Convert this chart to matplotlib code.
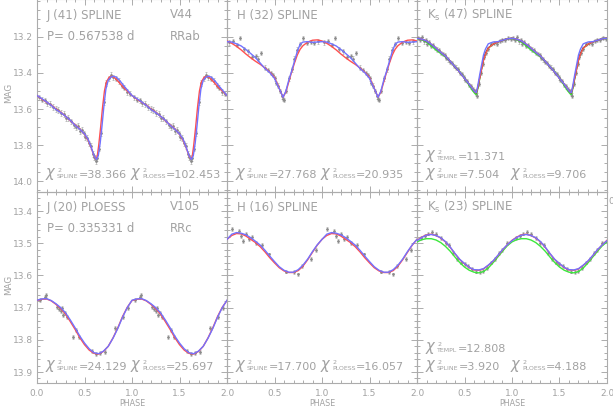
import numpy as np
import matplotlib
matplotlib.use('Agg')
import matplotlib.pyplot as plt
from matplotlib.ticker import MultipleLocator, FixedLocator, FormatStrFormatter

plt.rcParams['mathtext.fontset'] = 'dejavusans'
plt.rcParams['font.family'] = ['DejaVu Sans']

# ---------------- data (one pulsation cycle, phase 0..1) ----------------
# Top-left: J band, V44 (RRab)
jA_ph_red = [0.00, 0.05, 0.10, 0.15, 0.20, 0.25, 0.30, 0.35, 0.40, 0.45, 0.50, 0.54, 0.57, 0.60, 0.62,
             0.635, 0.65, 0.67, 0.69, 0.71, 0.73, 0.76, 0.79, 0.82, 0.86, 0.90, 0.95, 1.00]
jA_red = [13.525, 13.545, 13.562, 13.578, 13.600, 13.618, 13.640, 13.664, 13.688, 13.710, 13.740, 13.775,
          13.815, 13.860, 13.878, 13.860, 13.800, 13.700, 13.590, 13.500, 13.450, 13.423, 13.418, 13.428,
          13.450, 13.475, 13.500, 13.525]
jA_ph_blue = [0.00, 0.05, 0.10, 0.15, 0.20, 0.25, 0.30, 0.35, 0.40, 0.45, 0.50, 0.54, 0.57, 0.60, 0.625,
              0.645, 0.665, 0.685, 0.705, 0.725, 0.75, 0.78, 0.81, 0.84, 0.88, 0.92, 0.96, 1.00]
jA_blue = [13.525, 13.542, 13.560, 13.580, 13.603, 13.620, 13.640, 13.662, 13.690, 13.712, 13.738, 13.770,
           13.812, 13.858, 13.880, 13.860, 13.790, 13.690, 13.580, 13.490, 13.440, 13.422, 13.418, 13.425,
           13.448, 13.475, 13.500, 13.525]
jA_pt_ph = [0.02, 0.05, 0.08, 0.11, 0.14, 0.17, 0.20, 0.22, 0.25, 0.28, 0.31, 0.33, 0.36, 0.39, 0.41,
            0.43, 0.45, 0.47, 0.49, 0.51, 0.53, 0.55, 0.57, 0.59, 0.60, 0.61, 0.62, 0.63, 0.65, 0.67,
            0.70, 0.73, 0.76, 0.78, 0.80, 0.83, 0.86, 0.89, 0.92, 0.95, 0.98]
jA_pt_mag = [13.535, 13.548, 13.552, 13.568, 13.572, 13.588, 13.600, 13.606, 13.622, 13.628, 13.652, 13.650,
             13.668, 13.690, 13.700, 13.695, 13.722, 13.716, 13.735, 13.755, 13.760, 13.790, 13.805, 13.850,
             13.868, 13.870, 13.890, 13.872, 13.820, 13.735, 13.560, 13.455, 13.430, 13.410, 13.425, 13.432,
             13.445, 13.470, 13.482, 13.505, 13.515]
jA_err = 0.015

# Top-middle: H band
hA_ph = [0.00, 0.05, 0.10, 0.15, 0.20, 0.25, 0.30, 0.35, 0.40, 0.45, 0.50, 0.53, 0.56, 0.59, 0.62,
         0.65, 0.68, 0.71, 0.74, 0.77, 0.80, 0.85, 0.90, 0.95, 1.00]
hA_blue = [13.226, 13.228, 13.238, 13.250, 13.270, 13.292, 13.315, 13.345, 13.375, 13.398, 13.430, 13.465,
           13.498, 13.535, 13.500, 13.440, 13.390, 13.335, 13.280, 13.240, 13.228, 13.226, 13.230, 13.228, 13.226]
hA_red = [13.222, 13.235, 13.252, 13.272, 13.295, 13.316, 13.335, 13.352, 13.372, 13.395, 13.425, 13.460,
          13.498, 13.535, 13.505, 13.450, 13.395, 13.345, 13.300, 13.268, 13.248, 13.228, 13.218, 13.216, 13.222]
hA_pt_ph = [0.02, 0.06, 0.10, 0.14, 0.18, 0.22, 0.26, 0.30, 0.33, 0.36, 0.40, 0.43, 0.46, 0.48, 0.50, 0.52,
            0.54, 0.56, 0.58, 0.59, 0.60, 0.62, 0.65, 0.68, 0.71, 0.74, 0.77, 0.80, 0.84, 0.88, 0.92, 0.96]
hA_pt_mag = [13.230, 13.222, 13.245, 13.205, 13.265, 13.280, 13.310, 13.305, 13.320, 13.290, 13.370, 13.385,
             13.400, 13.410, 13.430, 13.455, 13.470, 13.500, 13.530, 13.545, 13.550, 13.500, 13.430, 13.380,
             13.320, 13.270, 13.240, 13.205, 13.235, 13.228, 13.232, 13.225]
hA_err = 0.012

# Top-right: Ks band
kA_ph = [0.00, 0.05, 0.10, 0.15, 0.20, 0.25, 0.30, 0.35, 0.40, 0.45, 0.50, 0.55, 0.58, 0.61, 0.625,
         0.64, 0.66, 0.68, 0.70, 0.72, 0.75, 0.80, 0.85, 0.90, 0.95, 1.00]
kA_red = [13.207, 13.212, 13.222, 13.240, 13.262, 13.285, 13.306, 13.335, 13.365, 13.395, 13.430, 13.462,
          13.485, 13.505, 13.510, 13.480, 13.430, 13.380, 13.330, 13.295, 13.262, 13.240, 13.228, 13.218,
          13.210, 13.207]
kA_blue = [13.207, 13.212, 13.222, 13.240, 13.262, 13.285, 13.306, 13.335, 13.365, 13.395, 13.430, 13.462,
           13.485, 13.505, 13.508, 13.470, 13.410, 13.355, 13.300, 13.268, 13.238, 13.228, 13.226, 13.218,
           13.210, 13.207]
kA_green = [13.208, 13.215, 13.228, 13.250, 13.272, 13.292, 13.310, 13.336, 13.364, 13.393, 13.428, 13.470,
            13.495, 13.515, 13.520, 13.488, 13.432, 13.378, 13.328, 13.292, 13.262, 13.240, 13.228, 13.218,
            13.210, 13.208]
kA_black = [13.207, 13.213, 13.224, 13.242, 13.263, 13.286, 13.307, 13.336, 13.366, 13.396, 13.430, 13.463,
            13.487, 13.506, 13.512, 13.482, 13.428, 13.375, 13.326, 13.292, 13.260, 13.240, 13.228, 13.218,
            13.210, 13.207]
kA_pt_ph = [0.01, 0.03, 0.05, 0.07, 0.09, 0.11, 0.13, 0.15, 0.17, 0.19, 0.21, 0.23, 0.25, 0.27, 0.29,
            0.31, 0.33, 0.35, 0.37, 0.39, 0.41, 0.43, 0.45, 0.47, 0.49, 0.51, 0.53, 0.55, 0.57, 0.59,
            0.61, 0.62, 0.63, 0.65, 0.67, 0.69, 0.71, 0.73, 0.75, 0.78, 0.81, 0.84, 0.87, 0.90, 0.93,
            0.96, 0.99]
kA_pt_mag = [13.205, 13.215, 13.200, 13.225, 13.218, 13.240, 13.228, 13.250, 13.245, 13.262, 13.270, 13.272,
             13.290, 13.295, 13.300, 13.318, 13.325, 13.340, 13.345, 13.362, 13.370, 13.380, 13.400, 13.405,
             13.425, 13.440, 13.446, 13.465, 13.475, 13.490, 13.500, 13.515, 13.525, 13.460, 13.400, 13.350,
             13.310, 13.290, 13.265, 13.240, 13.235, 13.238, 13.222, 13.215, 13.218, 13.205, 13.210]
kA_err = 0.012

# Bottom-left: J band, V105 (RRc)
jB_ph = [0.00, 0.05, 0.10, 0.15, 0.20, 0.25, 0.30, 0.35, 0.40, 0.45, 0.50, 0.55, 0.60, 0.65, 0.70,
         0.75, 0.80, 0.85, 0.90, 0.95, 1.00]
jB_blue = [13.677, 13.673, 13.672, 13.678, 13.688, 13.700, 13.716, 13.738, 13.762, 13.788, 13.810, 13.828,
           13.840, 13.843, 13.835, 13.820, 13.795, 13.765, 13.730, 13.700, 13.677]
jB_red = [13.678, 13.674, 13.673, 13.679, 13.690, 13.703, 13.720, 13.743, 13.767, 13.793, 13.815, 13.832,
          13.842, 13.844, 13.836, 13.820, 13.794, 13.763, 13.728, 13.699, 13.678]
jB_pt_ph = [0.03, 0.08, 0.09, 0.21, 0.23, 0.25, 0.26, 0.27, 0.29, 0.32, 0.38, 0.41, 0.44, 0.58, 0.62,
            0.66, 0.72, 0.82, 0.91, 0.96]
jB_pt_mag = [13.676, 13.668, 13.660, 13.698, 13.705, 13.712, 13.700, 13.722, 13.718, 13.728, 13.790, 13.770,
             13.792, 13.835, 13.845, 13.842, 13.838, 13.762, 13.728, 13.700]
jB_err = 0.006

# Bottom-middle: H band
hB_ph = [0.00, 0.05, 0.10, 0.15, 0.20, 0.25, 0.30, 0.35, 0.40, 0.45, 0.50, 0.55, 0.60, 0.65, 0.70,
         0.75, 0.80, 0.85, 0.90, 0.95, 1.00]
hB_blue = [13.488, 13.472, 13.467, 13.469, 13.474, 13.483, 13.494, 13.506, 13.522, 13.540, 13.557, 13.573,
           13.584, 13.590, 13.590, 13.582, 13.568, 13.549, 13.526, 13.505, 13.488]
hB_red = [13.488, 13.476, 13.470, 13.471, 13.478, 13.488, 13.498, 13.511, 13.527, 13.545, 13.561, 13.576,
          13.586, 13.591, 13.591, 13.585, 13.571, 13.551, 13.528, 13.506, 13.488]
hB_pt_ph = [0.05, 0.13, 0.15, 0.17, 0.20, 0.23, 0.26, 0.31, 0.37, 0.44, 0.62, 0.70, 0.75, 0.79, 0.88, 0.94]
hB_pt_mag = [13.455, 13.462, 13.478, 13.492, 13.470, 13.488, 13.480, 13.500, 13.505, 13.535, 13.588, 13.590,
             13.597, 13.570, 13.548, 13.520]
hB_err = 0.006

# Bottom-right: Ks band
kB_ph = [0.00, 0.05, 0.10, 0.15, 0.20, 0.25, 0.30, 0.35, 0.40, 0.45, 0.50, 0.55, 0.60, 0.65, 0.70,
         0.75, 0.80, 0.85, 0.90, 0.95, 1.00]
kB_blue = [13.492, 13.482, 13.475, 13.473, 13.476, 13.483, 13.495, 13.512, 13.532, 13.550, 13.563, 13.575,
           13.582, 13.583, 13.579, 13.568, 13.555, 13.538, 13.520, 13.505, 13.492]
kB_red = [13.491, 13.481, 13.474, 13.472, 13.476, 13.484, 13.496, 13.513, 13.533, 13.551, 13.564, 13.576,
          13.583, 13.584, 13.580, 13.569, 13.556, 13.539, 13.521, 13.505, 13.491]
kB_green = [13.496, 13.489, 13.486, 13.486, 13.490, 13.498, 13.510, 13.525, 13.543, 13.560, 13.574, 13.584,
            13.590, 13.592, 13.588, 13.577, 13.561, 13.543, 13.525, 13.508, 13.496]
kB_pt_ph = [0.04, 0.08, 0.12, 0.16, 0.20, 0.25, 0.30, 0.34, 0.38, 0.42, 0.46, 0.50, 0.54, 0.58, 0.62,
            0.66, 0.70, 0.74, 0.78, 0.82, 0.86, 0.90, 0.95]
kB_pt_mag = [13.485, 13.478, 13.470, 13.465, 13.472, 13.485, 13.498, 13.505, 13.530, 13.548, 13.560, 13.565,
             13.572, 13.580, 13.588, 13.590, 13.585, 13.578, 13.560, 13.548, 13.530, 13.522, 13.500]
kB_err = 0.006

yticks_top = [13.2, 13.4, 13.6, 13.8, 14.0]
yticks_bot = [13.4, 13.5, 13.6, 13.7, 13.8, 13.9]

# ---------------- figure ----------------
W, H = 613, 408
fig = plt.figure(figsize=(W / 100, H / 100), dpi=100)
GRAY = '#a2a2a2'
AXC = '#acacac'
BLUE = '#7272ff'
RED = '#ff5050'
GREEN = '#3ce83c'
BLACK = '#333333'

cols = [(37, 227), (227, 417), (417, 607)]
rows = [(-1, 192), (192, 383)]
ylims = [(14.061, 12.989), (13.934, 13.341)]
ymajor = [yticks_top, yticks_bot]
yminor = [0.05, 0.02]


def ax_at(x0, y0, x1, y1):
    return fig.add_axes([x0 / W, 1 - y1 / H, (x1 - x0) / W, (y1 - y0) / H])


def two(ph, vals):
    ph = np.asarray(ph)
    return np.concatenate([ph, ph[1:] + 1]), np.concatenate([vals, vals[1:]])


def pts(ax, ph, mag, err):
    ph = np.asarray(ph)
    x = np.concatenate([ph, ph + 1])
    y = np.concatenate([mag, mag])
    ax.errorbar(x, y, yerr=err, fmt='o', ms=1.0, mfc='#8a8a8a', mec='#8a8a8a',
                ecolor='#b0b0b0', elinewidth=0.5, capsize=0.8, capthick=0.5, zorder=2)


def line(ax, ph, vals, color, lw=1.0, z=3):
    x, y = two(ph, vals)
    ax.plot(x, y, color=color, lw=lw, zorder=z)


axes = {}
for r in range(2):
    for c in range(3):
        ax = ax_at(cols[c][0], rows[r][0], cols[c][1], rows[r][1])
        ax.set_xlim(0, 2)
        ax.set_ylim(*ylims[r])
        ax.xaxis.set_major_locator(MultipleLocator(0.5))
        ax.xaxis.set_minor_locator(MultipleLocator(0.1))
        ax.yaxis.set_major_locator(FixedLocator(ymajor[r]))
        ax.yaxis.set_minor_locator(MultipleLocator(yminor[r]))
        ax.tick_params(which='both', direction='in', top=True, right=True, color=AXC,
                       labelcolor=GRAY, labelsize=6.5, width=0.7)
        ax.tick_params(which='major', length=4)
        ax.tick_params(which='minor', length=2)
        ax.tick_params(axis='y', pad=3)
        ax.tick_params(axis='x', pad=4)
        ax.xaxis.set_major_formatter(FormatStrFormatter('%.1f'))
        ax.yaxis.set_major_formatter(FormatStrFormatter('%.1f'))
        for s in ax.spines.values():
            s.set_color(AXC)
            s.set_linewidth(0.8)
        ax.patch.set_alpha(0)
        if c > 0:
            ax.tick_params(labelleft=False)
        if r == 0:
            ax.tick_params(labelbottom=False)
        elif c > 0:
            ax.set_xticks([0.5, 1.0, 1.5, 2.0])
        axes[(r, c)] = ax

# Panels
ax = axes[(0, 0)]
pts(ax, jA_pt_ph, jA_pt_mag, jA_err)
line(ax, jA_ph_red, jA_red, RED)
line(ax, jA_ph_blue, jA_blue, BLUE)

ax = axes[(0, 1)]
pts(ax, hA_pt_ph, hA_pt_mag, hA_err)
line(ax, hA_ph, hA_red, RED)
line(ax, hA_ph, hA_blue, BLUE)

ax = axes[(0, 2)]
pts(ax, kA_pt_ph, kA_pt_mag, kA_err)
line(ax, kA_ph, kA_green, GREEN)
line(ax, kA_ph, kA_black, BLACK, lw=0.8)
line(ax, kA_ph, kA_red, RED)
line(ax, kA_ph, kA_blue, BLUE)

ax = axes[(1, 0)]
pts(ax, jB_pt_ph, jB_pt_mag, jB_err)
line(ax, jB_ph, jB_red, RED)
line(ax, jB_ph, jB_blue, BLUE)

ax = axes[(1, 1)]
pts(ax, hB_pt_ph, hB_pt_mag, hB_err)
line(ax, hB_ph, hB_red, RED)
line(ax, hB_ph, hB_blue, BLUE)

ax = axes[(1, 2)]
pts(ax, kB_pt_ph, kB_pt_mag, kB_err)
line(ax, kB_ph, kB_green, GREEN)
line(ax, kB_ph, kB_red, RED)
line(ax, kB_ph, kB_blue, BLUE)

# Text
TFS = 8.5
renderer = fig.canvas.get_renderer()


def t(x, y, s, fs=TFS, **kw):
    return fig.text(x / W, 1 - y / H, s, color=GRAY, fontsize=fs, va='center', ha='left', **kw)


def chi(x, y, sub, val, fs=8.0):
    a = t(x, y - 1, r'$\chi$', fs=10.5)
    xe = a.get_window_extent(renderer).x1  # pixels from left
    b = t(xe + 0.3, y - 4.5, '2', fs=4.5)
    s = t(xe + 0.3, y + 2, sub, fs=4.5)
    x2 = max(b.get_window_extent(renderer).x1, s.get_window_extent(renderer).x1)
    t(x2 + 0.5, y, '=' + val, fs=fs)


t(47, 15, 'J (41) SPLINE'); t(170, 15, 'V44')
t(47, 37, 'P= 0.567538 d'); t(170, 37, 'RRab')
chi(45, 175, 'SPLINE', '38.366'); chi(130, 175, 'PLOESS', '102.453')

t(237, 15, 'H (32) SPLINE')
chi(235, 175, 'SPLINE', '27.768'); chi(320, 175, 'PLOESS', '20.935')

t(427, 15, r'K$_{\mathregular{s}}$ (47) SPLINE')
chi(425, 157, 'TEMPL', '11.371')
chi(425, 175, 'SPLINE', '7.504'); chi(510, 175, 'PLOESS', '9.706')

t(47, 207, 'J (20) PLOESS'); t(170, 207, 'V105')
t(47, 229, 'P= 0.335331 d'); t(170, 229, 'RRc')
chi(45, 367, 'SPLINE', '24.129'); chi(130, 367, 'PLOESS', '25.697')

t(237, 207, 'H (16) SPLINE')
chi(235, 367, 'SPLINE', '17.700'); chi(320, 367, 'PLOESS', '16.057')

t(427, 207, r'K$_{\mathregular{s}}$ (23) SPLINE')
chi(425, 349, 'TEMPL', '12.808')
chi(425, 367, 'SPLINE', '3.920'); chi(510, 367, 'PLOESS', '4.188')

# axis labels
fig.text(9 / W, 1 - 93 / H, 'MAG', color=GRAY, fontsize=6.3, rotation=90, va='center', ha='center')
fig.text(9 / W, 1 - 285 / H, 'MAG', color=GRAY, fontsize=6.3, rotation=90, va='center', ha='center')
for xc in (132, 322, 512):
    fig.text(xc / W, 1 - 403.5 / H, 'PHASE', color=GRAY, fontsize=5.8, va='center', ha='center')
t(608, 201, '0', fs=6.5)

fig.savefig('out.png', dpi=100)
